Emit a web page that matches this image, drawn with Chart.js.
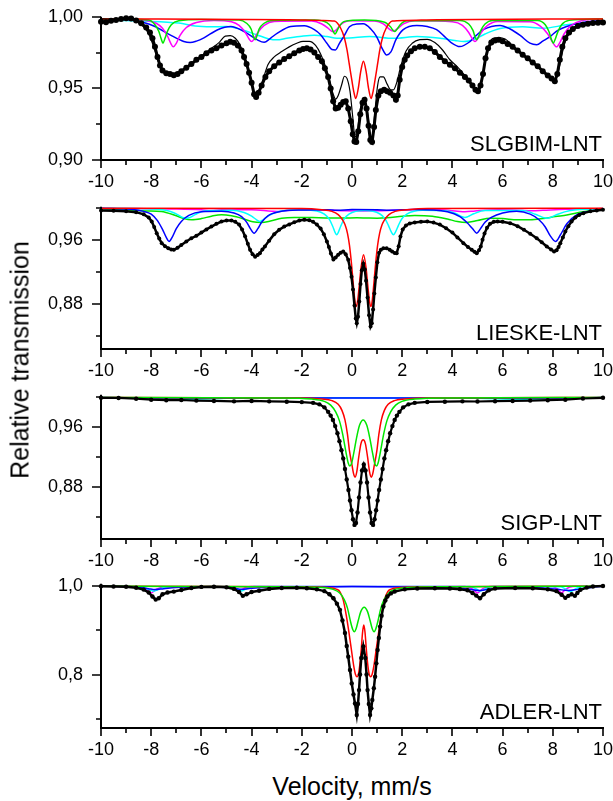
<!DOCTYPE html>
<html>
<head>
<meta charset="utf-8">
<script src="https://cdn.jsdelivr.net/npm/chart.js@4.4.1/dist/chart.umd.min.js"></script>
<style>
  html, body { margin: 0; padding: 0; background: #fff; }
  #wrap { position: relative; width: 613px; height: 801px; overflow: hidden;
          font-family: "Liberation Sans", Arial, sans-serif; color: #000; }
  #wrap canvas { position: absolute; left: 0; }
  .ytitle { position: absolute; left: 19.6px; top: 360px; font-size: 25px; line-height: 1;
            white-space: nowrap; transform: translate(-50%, -50%) rotate(-90deg); }
  .xtitle { position: absolute; left: 352px; top: 774px; font-size: 25px; line-height: 1;
            white-space: nowrap; transform: translateX(-50%); }
</style>
</head>
<body>
<div id="wrap">
  <div class="ytitle">Relative transmission</div>
  <div class="xtitle">Velocity, mm/s</div>
</div>
<script>
// ---------- axis ticks ----------
const xMajorTicks = [-10, -8, -6, -4, -2, 0, 2, 4, 6, 8, 10];
const xMinorTicks = [-9, -7, -5, -3, -1, 1, 3, 5, 7, 9];

const sampleNames = ['SLGBIM-LNT', 'LIESKE-LNT', 'SIGP-LNT', 'ADLER-LNT'];

const slgbimYMajor = [0.90, 0.95, 1.00];
const slgbimYMinor = [0.925, 0.975];
const lieskeYMajor = [0.88, 0.96];
const lieskeYMinor = [0.84, 0.92, 1.00];
const sigpYMajor = [0.88, 0.96];
const sigpYMinor = [0.84, 0.92, 1.00];
const adlerYMajor = [0.8, 1.0];
const adlerYMinor = [0.7, 0.9];

// ---------- SLGBIM-LNT: [velocity mm/s, relative transmission] ----------
const slgbimMeasured = [
  [-10,0.9965],[-9.8,0.9962],[-9.6,0.9972],[-9.4,0.9978],[-9.2,0.9985],[-9,0.999],[-8.8,0.9988],
  [-8.6,0.9975],[-8.4,0.9955],[-8.2,0.9925],[-8.05,0.989],[-7.95,0.985],[-7.85,0.979],[-7.75,0.972],
  [-7.65,0.966],[-7.55,0.9625],[-7.4,0.9605],[-7.25,0.96],[-7.1,0.9592],[-6.95,0.96],[-6.8,0.962],
  [-6.6,0.9645],[-6.4,0.967],[-6.2,0.97],[-6,0.972],[-5.8,0.9745],[-5.6,0.9765],[-5.4,0.978],
  [-5.2,0.98],[-5,0.9815],[-4.85,0.9825],[-4.7,0.9818],[-4.55,0.98],[-4.4,0.9765],[-4.3,0.972],
  [-4.2,0.967],[-4.1,0.961],[-4,0.954],[-3.9,0.946],[-3.82,0.944],[-3.72,0.947],[-3.6,0.952],
  [-3.45,0.958],[-3.3,0.962],[-3.1,0.9655],[-2.9,0.968],[-2.7,0.9705],[-2.5,0.9725],[-2.3,0.9745],
  [-2.1,0.9765],[-1.95,0.9775],[-1.8,0.978],[-1.65,0.9772],[-1.5,0.975],[-1.35,0.972],[-1.2,0.969],
  [-1.08,0.964],[-0.95,0.958],[-0.85,0.95],[-0.75,0.941],[-0.65,0.936],[-0.55,0.9365],[-0.45,0.9385],
  [-0.35,0.9405],[-0.25,0.941],[-0.15,0.936],[-0.05,0.927],[0.03,0.918],[0.1,0.913],[0.17,0.9125],
  [0.25,0.92],[0.33,0.932],[0.42,0.94],[0.5,0.942],[0.58,0.936],[0.66,0.924],[0.73,0.914],
  [0.8,0.9125],[0.88,0.923],[0.95,0.935],[1.05,0.945],[1.15,0.948],[1.28,0.949],[1.4,0.948],
  [1.52,0.947],[1.65,0.945],[1.75,0.942],[1.82,0.945],[1.9,0.956],[2,0.965],[2.1,0.97],[2.2,0.973],
  [2.35,0.976],[2.5,0.978],[2.7,0.979],[2.9,0.979],[3.1,0.978],[3.3,0.9755],[3.5,0.972],[3.7,0.969],
  [3.9,0.9665],[4.1,0.964],[4.3,0.961],[4.5,0.958],[4.65,0.9555],[4.8,0.952],[4.92,0.949],[5.02,0.948],
  [5.12,0.952],[5.22,0.96],[5.32,0.971],[5.42,0.978],[5.55,0.982],[5.7,0.9835],[5.85,0.984],[6,0.983],
  [6.2,0.981],[6.4,0.979],[6.6,0.9765],[6.8,0.9735],[7,0.971],[7.2,0.968],[7.4,0.9655],[7.6,0.962],
  [7.8,0.959],[7.95,0.957],[8.08,0.955],[8.18,0.96],[8.28,0.97],[8.38,0.979],[8.5,0.985],[8.65,0.989],
  [8.8,0.9915],[9,0.9935],[9.2,0.9945],[9.4,0.9952],[9.6,0.9956],[9.8,0.9958],[10,0.996]
];
const slgbimFit = [
  [-10,0.9985],[-9,0.9982],[-8.6,0.997],[-8.3,0.993],[-8.1,0.988],[-7.9,0.979],[-7.7,0.968],[-7.5,0.962],
  [-7.3,0.961],[-7.05,0.9605],[-6.8,0.9625],[-6.5,0.966],[-6.2,0.97],[-5.9,0.974],[-5.6,0.978],[-5.3,0.982],
  [-5.05,0.9865],[-4.85,0.9868],[-4.65,0.985],[-4.45,0.98],[-4.25,0.97],[-4.08,0.96],[-3.95,0.95],
  [-3.85,0.9455],[-3.72,0.948],[-3.55,0.956],[-3.35,0.9665],[-3.1,0.972],[-2.8,0.9757],[-2.5,0.979],
  [-2.2,0.9815],[-1.95,0.9828],[-1.7,0.9828],[-1.45,0.98],[-1.25,0.974],[-1.05,0.965],[-0.9,0.956],
  [-0.75,0.946],[-0.65,0.9425],[-0.55,0.945],[-0.42,0.952],[-0.3,0.9585],[-0.2,0.957],[-0.08,0.948],
  [0.03,0.93],[0.12,0.916],[0.2,0.918],[0.3,0.932],[0.4,0.941],[0.47,0.943],[0.55,0.94],[0.65,0.929],
  [0.75,0.915],[0.83,0.918],[0.92,0.935],[1.02,0.952],[1.12,0.958],[1.25,0.958],[1.4,0.953],[1.55,0.949],
  [1.65,0.949],[1.78,0.954],[1.95,0.966],[2.15,0.976],[2.4,0.9815],[2.7,0.984],[3,0.9843],[3.3,0.982],
  [3.6,0.977],[3.9,0.97],[4.2,0.965],[4.5,0.959],[4.75,0.953],[4.95,0.949],[5.05,0.9485],[5.15,0.953],
  [5.28,0.966],[5.42,0.978],[5.6,0.9848],[5.85,0.9855],[6.1,0.9845],[6.4,0.98],[6.7,0.975],[7,0.971],
  [7.3,0.967],[7.6,0.962],[7.85,0.958],[8.05,0.9555],[8.18,0.959],[8.3,0.968],[8.45,0.98],[8.65,0.989],
  [8.9,0.9935],[9.3,0.9955],[10,0.9975]
];
const slgbimRed = [
  [-10,0.9985],[-2.5,0.998],[-1.2,0.9975],[-0.7,0.997],[-0.45,0.992],[-0.3,0.985],[-0.2,0.977],
  [-0.1,0.966],[0,0.955],[0.08,0.947],[0.15,0.943],[0.25,0.95],[0.35,0.962],[0.455,0.969],[0.56,0.962],
  [0.66,0.95],[0.76,0.943],[0.83,0.947],[0.91,0.955],[1.01,0.966],[1.11,0.977],[1.21,0.985],
  [1.36,0.992],[1.61,0.997],[2.1,0.9975],[3.4,0.998],[10,0.9985]
];
const slgbimGreen = [
  [-10,0.9985],[-8.1,0.9978],[-7.85,0.9945],[-7.7,0.99],[-7.6,0.9845],[-7.53,0.9816],[-7.45,0.985],
  [-7.35,0.99],[-7.2,0.9945],[-6.9,0.9972],[-6,0.9982],[-4.5,0.9978],[-4.2,0.9955],[-4.02,0.9915],
  [-3.93,0.9865],[-3.86,0.984],[-3.78,0.987],[-3.7,0.9915],[-3.5,0.9955],[-3.2,0.9975],[-1.5,0.9978],
  [-1,0.996],[-0.83,0.993],[-0.74,0.9895],[-0.68,0.988],[-0.6,0.99],[-0.5,0.9935],[-0.3,0.9968],
  [0.5,0.9978],[1.3,0.9962],[1.53,0.993],[1.64,0.9905],[1.71,0.9897],[1.8,0.9915],[1.92,0.9945],
  [2.2,0.9972],[4.3,0.9975],[4.65,0.995],[4.82,0.9905],[4.91,0.9855],[4.97,0.984],[5.05,0.9865],
  [5.15,0.991],[5.3,0.995],[5.6,0.9975],[7.4,0.9975],[7.7,0.9945],[7.85,0.9895],[7.95,0.984],
  [8.02,0.9816],[8.1,0.9845],[8.2,0.9895],[8.35,0.9945],[8.65,0.9975],[10,0.9985]
];
const slgbimMagenta = [
  [-10,0.9985],[-8.2,0.9975],[-7.8,0.9955],[-7.55,0.992],[-7.35,0.9865],[-7.22,0.9815],[-7.12,0.979],
  [-7,0.9815],[-6.85,0.987],[-6.6,0.9925],[-6.2,0.996],[-5.5,0.9975],[-4.8,0.9965],[-4.5,0.994],
  [-4.25,0.989],[-4.1,0.9845],[-4,0.9827],[-3.9,0.9845],[-3.75,0.989],[-3.5,0.994],[-3.1,0.9968],
  [-1.6,0.997],[-1.2,0.995],[-0.95,0.992],[-0.82,0.99],[-0.74,0.9897],[-0.62,0.991],[-0.45,0.9945],
  [-0.1,0.9972],[0.9,0.997],[1.25,0.995],[1.5,0.9912],[1.65,0.99],[1.8,0.9915],[2.05,0.995],
  [2.5,0.9972],[4,0.9965],[4.4,0.994],[4.65,0.989],[4.8,0.9845],[4.9,0.9827],[5,0.9845],[5.15,0.989],
  [5.4,0.994],[5.8,0.9968],[7.1,0.9965],[7.5,0.9935],[7.8,0.988],[8,0.982],[8.15,0.979],[8.28,0.982],
  [8.45,0.988],[8.7,0.9935],[9.1,0.997],[10,0.9985]
];
const slgbimBlue = [
  [-10,0.9985],[-8.9,0.9979],[-8.3,0.996],[-7.85,0.9932],[-7.25,0.9874],[-6.7,0.9827],[-6.45,0.982],
  [-6.2,0.983],[-5.9,0.9853],[-5.35,0.991],[-4.83,0.9932],[-4.3,0.9897],[-3.77,0.9839],[-3.5,0.9822],
  [-3.25,0.985],[-2.97,0.9886],[-2.44,0.9932],[-1.9,0.9937],[-1.5,0.991],[-1.25,0.9874],[-1,0.9815],
  [-0.8,0.9772],[-0.66,0.9769],[-0.5,0.9815],[-0.33,0.9862],[-0.1,0.993],[0.2,0.995],[0.45,0.9951],
  [0.75,0.9915],[0.98,0.9862],[1.2,0.978],[1.38,0.9734],[1.55,0.9755],[1.75,0.984],[2.04,0.991],
  [2.58,0.994],[3,0.9932],[3.37,0.991],[3.7,0.986],[3.95,0.982],[4.3,0.9792],[4.7,0.9827],[4.95,0.987],
  [5.23,0.991],[5.9,0.994],[6.3,0.9915],[6.7,0.987],[7.09,0.9816],[7.36,0.9805],[7.6,0.983],
  [7.89,0.9862],[8.2,0.9905],[8.55,0.9932],[9.2,0.996],[10,0.9974]
];
const slgbimCyan = [
  [-10,0.9978],[-8.3,0.997],[-6.9,0.9956],[-6.25,0.9935],[-5.6,0.993],[-5,0.9932],[-4.4,0.991],
  [-3.8,0.9875],[-3.3,0.9845],[-3,0.9839],[-2.6,0.985],[-2,0.9865],[-1.5,0.9872],[-1,0.9862],
  [-0.6,0.985],[-0.1,0.9852],[0.7,0.9862],[1.65,0.985],[2.6,0.9862],[3.6,0.9848],[4.1,0.9835],
  [4.45,0.9827],[4.9,0.9845],[5.3,0.988],[5.9,0.9918],[6.8,0.993],[7.6,0.992],[8.55,0.9944],[10,0.9967]
];

// ---------- LIESKE-LNT ----------
const lieskeMeasured = [
  [-10,0.9966],[-9.5,0.9962],[-9,0.9955],[-8.6,0.9945],[-8.3,0.9918],[-8.1,0.988],[-7.98,0.983],
  [-7.88,0.976],[-7.78,0.9683],[-7.68,0.9615],[-7.58,0.9558],[-7.45,0.952],[-7.32,0.9496],[-7.2,0.948],
  [-7.1,0.9475],[-6.95,0.95],[-6.8,0.9535],[-6.6,0.958],[-6.4,0.962],[-6.2,0.965],[-6,0.969],[-5.8,0.973],
  [-5.6,0.9765],[-5.4,0.98],[-5.2,0.9828],[-5,0.984],[-4.8,0.9842],[-4.65,0.9825],[-4.5,0.979],
  [-4.38,0.973],[-4.26,0.9645],[-4.15,0.955],[-4.06,0.9475],[-3.96,0.942],[-3.86,0.939],[-3.76,0.941],
  [-3.67,0.9433],[-3.57,0.948],[-3.47,0.9517],[-3.3,0.959],[-3.1,0.967],[-2.9,0.9725],[-2.7,0.9765],
  [-2.5,0.9792],[-2.3,0.9818],[-2.1,0.984],[-1.9,0.985],[-1.7,0.9845],[-1.55,0.9825],[-1.4,0.979],
  [-1.25,0.974],[-1.12,0.967],[-1,0.958],[-0.92,0.951],[-0.84,0.943],[-0.74,0.9355],[-0.65,0.938],
  [-0.55,0.9415],[-0.45,0.944],[-0.35,0.9455],[-0.25,0.942],[-0.15,0.935],[-0.08,0.925],[-0.02,0.914],
  [0.04,0.898],[0.1,0.878],[0.15,0.862],[0.19,0.856],[0.24,0.864],[0.29,0.883],[0.34,0.905],[0.39,0.922],
  [0.45,0.93],[0.51,0.923],[0.56,0.909],[0.62,0.888],[0.68,0.866],[0.74,0.852],[0.79,0.856],[0.84,0.873],
  [0.89,0.893],[0.95,0.913],[1.01,0.932],[1.08,0.944],[1.15,0.9475],[1.25,0.9495],[1.38,0.9496],
  [1.5,0.9475],[1.6,0.9454],[1.7,0.9435],[1.78,0.9433],[1.86,0.952],[1.93,0.964],[2.02,0.973],
  [2.15,0.978],[2.3,0.9805],[2.5,0.9815],[2.75,0.9825],[3,0.9829],[3.25,0.9815],[3.5,0.979],[3.75,0.9745],
  [4,0.969],[4.2,0.963],[4.44,0.9558],[4.62,0.951],[4.77,0.9475],[4.88,0.945],[4.97,0.9433],[5.06,0.947],
  [5.13,0.9517],[5.2,0.96],[5.28,0.968],[5.38,0.975],[5.5,0.98],[5.65,0.9825],[5.8,0.983],[6,0.9825],
  [6.3,0.9808],[6.6,0.977],[6.85,0.9725],[7.1,0.9675],[7.36,0.962],[7.56,0.957],[7.76,0.9517],
  [7.93,0.948],[8.05,0.9455],[8.15,0.947],[8.23,0.951],[8.3,0.9558],[8.4,0.963],[8.5,0.9704],
  [8.62,0.977],[8.75,0.983],[8.9,0.988],[9.05,0.991],[9.22,0.9933],[9.5,0.9955],[9.75,0.9966],[10,0.9975]
];
const lieskeRed = [
  [-10,0.9995],[-2,0.999],[-1.2,0.9975],[-0.8,0.9955],[-0.55,0.9915],[-0.4,0.986],[-0.28,0.979],
  [-0.18,0.968],[-0.1,0.953],[-0.02,0.93],[0.05,0.905],[0.11,0.885],[0.16,0.8767],[0.22,0.883],
  [0.29,0.903],[0.36,0.925],[0.46,0.9413],[0.56,0.925],[0.63,0.903],[0.7,0.883],[0.76,0.8767],
  [0.81,0.885],[0.87,0.905],[0.94,0.93],[1.02,0.953],[1.1,0.968],[1.2,0.979],[1.32,0.986],[1.47,0.9915],
  [1.72,0.9955],[2.2,0.9975],[3,0.999],[10,0.9995]
];
const lieskeGreen = [
  [-10,0.999],[-9,0.9975],[-8.2,0.996],[-7.6,0.9954],[-7,0.99],[-6.7,0.9865],[-6.39,0.985],[-6,0.9865],
  [-5.6,0.9895],[-5.2,0.9913],[-4.8,0.99],[-4.3,0.986],[-3.95,0.9825],[-3.6,0.9817],[-3.25,0.9835],
  [-2.8,0.987],[-2.3,0.988],[-1.6,0.9878],[-0.9,0.9872],[-0.4,0.9872],[0.2,0.9875],[0.6,0.9872],
  [1,0.987],[1.4,0.9875],[2,0.9895],[2.5,0.9905],[3.2,0.9895],[3.8,0.986],[4.2,0.9828],[4.57,0.9817],
  [5,0.984],[5.5,0.987],[6,0.9865],[6.6,0.985],[7.1,0.985],[7.6,0.9865],[8.1,0.989],[8.56,0.991],
  [9.2,0.995],[9.9,0.9985]
];
const lieskeMagenta = [
  [-10,0.9993],[-7,0.9985],[-6,0.9975],[-5.6,0.9965],[-5.2,0.9975],[-4,0.9975],[-3.2,0.9958],
  [-2.9,0.9954],[-2.5,0.9968],[-1.5,0.9975],[-0.8,0.9968],[-0.3,0.9962],[0.45,0.996],[1,0.9962],
  [1.6,0.9968],[2.5,0.9978],[3.5,0.9975],[4.2,0.9958],[4.5,0.995],[4.9,0.996],[5.8,0.9975],[6.6,0.997],
  [7.2,0.9962],[7.6,0.9968],[8.5,0.9982],[10,0.9992]
];
const lieskeBlue = [
  [-10,0.9995],[-8.8,0.998],[-8.3,0.9955],[-8,0.992],[-7.75,0.984],[-7.55,0.973],[-7.4,0.963],
  [-7.29,0.958],[-7.15,0.964],[-7,0.974],[-6.8,0.983],[-6.5,0.9905],[-6,0.995],[-5.2,0.9955],
  [-4.7,0.9935],[-4.4,0.989],[-4.2,0.982],[-4.05,0.974],[-3.9,0.9683],[-3.75,0.974],[-3.6,0.982],
  [-3.35,0.99],[-2.9,0.995],[-2,0.9972],[-1,0.9975],[-0.6,0.9968],[0,0.9978],[1,0.9975],[1.5,0.997],
  [2.5,0.9978],[3.8,0.995],[4.3,0.989],[4.6,0.981],[4.8,0.974],[4.97,0.9683],[5.12,0.974],[5.3,0.982],
  [5.55,0.988],[6,0.9935],[6.56,0.9955],[7.1,0.992],[7.45,0.985],[7.7,0.976],[7.9,0.965],[8.11,0.958],
  [8.3,0.966],[8.56,0.98],[8.95,0.991],[9.5,0.996],[10,0.9975]
];
const lieskeCyan = [
  [-10,0.9995],[-8,0.9985],[-7.3,0.996],[-6.95,0.9915],[-6.75,0.988],[-6.6,0.987],[-6.45,0.988],
  [-6.25,0.9915],[-5.9,0.996],[-4.8,0.997],[-4.3,0.994],[-4,0.9895],[-3.8,0.985],[-3.67,0.983],
  [-3.54,0.985],[-3.35,0.9895],[-3.05,0.994],[-2.2,0.9975],[-1.4,0.996],[-1.1,0.992],[-0.9,0.9855],
  [-0.77,0.977],[-0.67,0.969],[-0.61,0.9663],[-0.55,0.969],[-0.45,0.977],[-0.32,0.9855],[-0.12,0.992],
  [0.5,0.9965],[1.1,0.9925],[1.32,0.986],[1.45,0.978],[1.57,0.9695],[1.65,0.9663],[1.73,0.9695],
  [1.85,0.978],[1.98,0.986],[2.2,0.9925],[2.8,0.997],[3.8,0.996],[4.15,0.9925],[4.38,0.989],[4.5,0.988],
  [4.62,0.989],[4.85,0.9925],[5.3,0.9965],[6.8,0.9965],[7.3,0.992],[7.6,0.988],[7.76,0.987],[7.92,0.988],
  [8.2,0.992],[8.7,0.9965],[10,0.999]
];

// ---------- SIGP-LNT ----------
const sigpMeasured = [
  [-10,0.9987],[-9.3,0.9985],[-8.6,0.9975],[-8,0.9962],[-7.4,0.9955],[-6.8,0.9958],[-6.2,0.995],
  [-5.5,0.9945],[-4.7,0.994],[-4,0.9945],[-3.3,0.994],[-2.6,0.9935],[-2,0.993],[-1.55,0.992],[-1.3,0.99],
  [-1.1,0.986],[-0.95,0.98],[-0.85,0.975],[-0.76,0.9693],[-0.67,0.961],[-0.58,0.9516],[-0.5,0.941],
  [-0.42,0.929],[-0.35,0.918],[-0.28,0.904],[-0.21,0.89],[-0.14,0.876],[-0.08,0.862],[-0.02,0.849],
  [0.04,0.837],[0.1,0.8295],[0.16,0.832],[0.22,0.846],[0.28,0.866],[0.34,0.886],[0.4,0.902],[0.47,0.91],
  [0.54,0.902],[0.6,0.886],[0.66,0.866],[0.72,0.846],[0.78,0.832],[0.84,0.8295],[0.9,0.837],[0.96,0.849],
  [1.02,0.862],[1.08,0.876],[1.15,0.89],[1.22,0.904],[1.29,0.918],[1.36,0.929],[1.44,0.941],[1.52,0.9516],
  [1.61,0.961],[1.7,0.9693],[1.79,0.975],[1.89,0.98],[2.04,0.986],[2.25,0.99],[2.5,0.992],[3,0.9932],
  [3.7,0.9935],[4.4,0.994],[5,0.9938],[5.7,0.9942],[6.4,0.9945],[7.1,0.995],[7.8,0.9955],[8.5,0.9962],
  [9.2,0.9978],[10,0.9987]
];
const sigpRed = [
  [-10,0.999],[-2,0.9985],[-1.2,0.997],[-0.8,0.995],[-0.55,0.99],[-0.4,0.982],[-0.28,0.9693],
  [-0.18,0.95],[-0.1,0.928],[0,0.909],[0.06,0.898],[0.12,0.8929],[0.19,0.9],[0.27,0.92],[0.36,0.938],
  [0.445,0.9427],[0.53,0.938],[0.62,0.92],[0.7,0.9],[0.77,0.8929],[0.83,0.898],[0.89,0.909],[0.99,0.928],
  [1.07,0.95],[1.17,0.9693],[1.29,0.982],[1.44,0.99],[1.69,0.995],[2.1,0.997],[3,0.9985],[10,0.999]
];
const sigpGreen = [
  [-10,0.9992],[-3,0.9985],[-1.6,0.997],[-1.1,0.994],[-0.85,0.989],[-0.65,0.98],[-0.5,0.968],
  [-0.37,0.95],[-0.25,0.928],[-0.15,0.912],[-0.09,0.908],[-0.02,0.911],[0.07,0.925],[0.18,0.945],
  [0.3,0.962],[0.445,0.9693],[0.59,0.962],[0.71,0.945],[0.82,0.925],[0.91,0.911],[0.98,0.908],
  [1.04,0.912],[1.14,0.928],[1.26,0.95],[1.39,0.968],[1.54,0.98],[1.74,0.989],[1.99,0.994],[2.5,0.997],
  [3.9,0.9985],[10,0.9992]
];
const sigpBlue = [
  [-10,0.999],[-7.5,0.998],[-4,0.9982],[0,0.9985],[4,0.9982],[7.5,0.998],[10,0.999]
];
const sigpCyan = [
  [-10,0.9992],[-8,0.9975],[-6.8,0.9968],[-5,0.998],[0,0.9988],[5,0.998],[6.8,0.9968],[8,0.9975],[10,0.9992]
];

// ---------- ADLER-LNT ----------
const adlerMeasured = [
  [-10,0.999],[-9.5,0.9985],[-9,0.9978],[-8.6,0.9955],[-8.3,0.9915],[-8.1,0.985],[-7.95,0.976],
  [-7.82,0.969],[-7.7,0.972],[-7.55,0.981],[-7.35,0.985],[-7.1,0.987],[-6.8,0.9905],[-6.4,0.995],
  [-6,0.9975],[-5.5,0.9978],[-5,0.9965],[-4.7,0.993],[-4.5,0.986],[-4.35,0.9775],[-4.2,0.981],[-4,0.986],
  [-3.7,0.989],[-3.3,0.993],[-2.8,0.995],[-2.2,0.9955],[-1.8,0.9945],[-1.4,0.992],[-1.1,0.988],
  [-0.9,0.981],[-0.74,0.972],[-0.6,0.96],[-0.48,0.946],[-0.38,0.922],[-0.28,0.894],[-0.21,0.865],
  [-0.15,0.841],[-0.08,0.811],[-0.01,0.781],[0.06,0.756],[0.12,0.736],[0.19,0.71],[0.24,0.735],
  [0.28,0.766],[0.32,0.801],[0.37,0.838],[0.45,0.864],[0.53,0.838],[0.58,0.801],[0.62,0.766],
  [0.67,0.735],[0.72,0.71],[0.77,0.725],[0.81,0.744],[0.87,0.77],[0.92,0.796],[0.97,0.826],[1.02,0.856],
  [1.07,0.883],[1.12,0.9085],[1.18,0.933],[1.25,0.9535],[1.33,0.967],[1.41,0.976],[1.55,0.983],
  [1.7,0.987],[2.1,0.992],[2.6,0.994],[3.3,0.9945],[3.9,0.994],[4.3,0.9925],[4.6,0.99],[4.8,0.984],
  [4.95,0.978],[5.1,0.972],[5.25,0.981],[5.45,0.99],[5.7,0.994],[6.5,0.995],[7.2,0.9945],[7.8,0.992],
  [8.15,0.988],[8.35,0.98],[8.5,0.973],[8.62,0.9775],[8.75,0.981],[8.88,0.9775],[8.98,0.984],[9.1,0.991],
  [9.35,0.996],[9.6,0.9985],[10,0.9995]
];
const adlerRed = [
  [-10,0.999],[-2,0.998],[-1,0.996],[-0.6,0.992],[-0.48,0.9865],[-0.35,0.9685],[-0.22,0.931],
  [-0.12,0.895],[-0.02,0.855],[0.07,0.82],[0.14,0.801],[0.2,0.796],[0.26,0.803],[0.31,0.822],
  [0.37,0.858],[0.42,0.895],[0.47,0.912],[0.52,0.895],[0.57,0.858],[0.63,0.822],[0.68,0.803],
  [0.74,0.796],[0.8,0.801],[0.87,0.82],[0.96,0.855],[1.06,0.895],[1.16,0.931],[1.29,0.9685],
  [1.42,0.9865],[1.54,0.992],[1.94,0.996],[3,0.998],[10,0.999]
];
const adlerGreen = [
  [-10,0.999],[-3,0.998],[-1.2,0.996],[-0.75,0.992],[-0.48,0.9835],[-0.3,0.968],[-0.18,0.95],
  [-0.06,0.92],[0.03,0.902],[0.09,0.897],[0.16,0.903],[0.25,0.922],[0.35,0.942],[0.485,0.952],
  [0.62,0.942],[0.72,0.922],[0.81,0.903],[0.88,0.897],[0.94,0.902],[1.03,0.92],[1.15,0.95],[1.27,0.968],
  [1.45,0.9835],[1.72,0.992],[2.2,0.996],[4,0.998],[10,0.999]
];
const adlerBlue = [
  [-10,0.9995],[-8.6,0.9975],[-8.1,0.9935],[-7.85,0.9915],[-7.5,0.9935],[-6.8,0.9965],[-5.2,0.997],
  [-4.7,0.9945],[-4.4,0.992],[-4.1,0.994],[-3.3,0.9965],[-1.5,0.9975],[0,0.9985],[1.5,0.9978],
  [3.5,0.9965],[4.6,0.993],[5.1,0.9895],[5.6,0.9935],[7.2,0.9955],[8.2,0.992],[8.6,0.9895],[9,0.992],
  [9.6,0.997],[10,0.999]
];
const adlerMagenta = [
  [-10,0.9995],[-8.5,0.9975],[-8.2,0.992],[-8,0.984],[-7.8,0.992],[-7.5,0.9975],[-5,0.9985],
  [-4.75,0.9955],[-4.5,0.9895],[-4.25,0.9955],[-4,0.9985],[4.5,0.9985],[4.8,0.993],[5,0.984],[5.2,0.993],
  [5.5,0.9985],[8,0.998],[8.2,0.992],[8.35,0.984],[8.5,0.992],[8.8,0.9985],[10,0.9995]
];
const adlerCyan = [
  [-10,0.9995],[-8.4,0.9975],[-8.1,0.992],[-7.9,0.988],[-7.7,0.992],[-7.4,0.9975],[-4.9,0.9985],
  [-4.6,0.994],[-4.4,0.9885],[-4.2,0.994],[-3.9,0.9985],[4.7,0.9985],[4.95,0.993],[5.1,0.9885],
  [5.3,0.993],[5.6,0.9985],[8.3,0.998],[8.5,0.993],[8.7,0.987],[8.9,0.993],[9.2,0.9985],[10,0.9995]
];

// ---------- drawing ----------
const FONT = '"Liberation Sans", Arial, Helvetica, sans-serif';
Chart.defaults.font.family = FONT;
Chart.defaults.color = '#000';

const COLORS = { red: '#ff0000', green: '#00e600', blue: '#0000ff', cyan: '#00ffff', magenta: '#ff00ff' };

// plot frame in page pixels: x from -10 to 10 spans AXIS_LEFT..AXIS_RIGHT
const AXIS_LEFT = 101, AXIS_RIGHT = 603;

function toPoints(pairs) { return pairs.map(p => ({ x: p[0], y: p[1] })); }

function component(pairs, color) {
  return { data: toPoints(pairs), borderColor: color, borderWidth: 1.5, pointRadius: 0,
           cubicInterpolationMode: 'monotone', fill: false, clip: false };
}
function measured(pairs, radius, width) {
  return { data: toPoints(pairs), borderColor: '#000', borderWidth: width, pointRadius: radius,
           pointBackgroundColor: '#000', pointBorderWidth: 0, pointHoverRadius: radius,
           tension: 0, fill: false, clip: false };
}
function fitLine(pairs) {
  return { data: toPoints(pairs), borderColor: '#000', borderWidth: 1.2, pointRadius: 0,
           cubicInterpolationMode: 'monotone', fill: false, clip: false };
}

// axes, tick marks and sample name, drawn over the curves
const frame = {
  id: 'frame',
  afterDatasetsDraw(chart, args, o) {
    const { ctx, chartArea: a, scales: { x, y } } = chart;
    ctx.save();
    ctx.strokeStyle = '#000';
    ctx.lineWidth = 2;
    ctx.beginPath();
    ctx.moveTo(a.left, a.top);
    ctx.lineTo(a.left, a.bottom);
    ctx.lineTo(a.right + 1, a.bottom);
    ctx.stroke();
    ctx.lineWidth = 1.6;
    ctx.beginPath();
    xMajorTicks.forEach(v => { const p = Math.round(x.getPixelForValue(v)); ctx.moveTo(p, a.bottom); ctx.lineTo(p, a.bottom + 8); });
    xMinorTicks.forEach(v => { const p = Math.round(x.getPixelForValue(v)); ctx.moveTo(p, a.bottom); ctx.lineTo(p, a.bottom + 5); });
    o.major.forEach(v => { const p = Math.round(y.getPixelForValue(v)); ctx.moveTo(a.left, p); ctx.lineTo(a.left - 9, p); });
    o.minor.forEach(v => { const p = Math.round(y.getPixelForValue(v)); ctx.moveTo(a.left, p); ctx.lineTo(a.left - 5, p); });
    ctx.stroke();
    ctx.fillStyle = '#000';
    ctx.font = '22px ' + FONT;
    ctx.textAlign = 'right';
    ctx.textBaseline = 'alphabetic';
    ctx.fillText(o.label, a.right - 1, a.bottom - 9.5);
    ctx.restore();
  }
};

const panels = [
  { top: 17, bottom: 160, min: 0.90, max: 1.00, major: slgbimYMajor, minor: slgbimYMinor, dec: 2, label: sampleNames[0],
    sets: () => [measured(slgbimMeasured, 3, 3), fitLine(slgbimFit),
               component(slgbimRed, COLORS.red), component(slgbimGreen, COLORS.green),
               component(slgbimMagenta, COLORS.magenta), component(slgbimBlue, COLORS.blue),
               component(slgbimCyan, COLORS.cyan)] },
  { top: 207, bottom: 349, min: 0.8238, max: 1.0012, major: lieskeYMajor, minor: lieskeYMinor, dec: 2, label: sampleNames[1],
    sets: () => [measured(lieskeMeasured, 2, 2.5),
               component(lieskeRed, COLORS.red), component(lieskeBlue, COLORS.blue),
               component(lieskeCyan, COLORS.cyan), component(lieskeMagenta, COLORS.magenta),
               component(lieskeGreen, COLORS.green)] },
  { top: 395, bottom: 539, min: 0.8107, max: 1.0027, major: sigpYMajor, minor: sigpYMinor, dec: 2, label: sampleNames[2],
    sets: () => [measured(sigpMeasured, 2.2, 2.2),
               component(sigpGreen, COLORS.green), component(sigpRed, COLORS.red),
               component(sigpBlue, COLORS.blue), component(sigpCyan, COLORS.cyan)] },
  { top: 584, bottom: 728, min: 0.6809, max: 1.0045, major: adlerYMajor, minor: adlerYMinor, dec: 1, label: sampleNames[3],
    sets: () => [measured(adlerMeasured, 2.2, 2.5),
               component(adlerGreen, COLORS.green), component(adlerRed, COLORS.red),
               component(adlerBlue, COLORS.blue), component(adlerCyan, COLORS.cyan),
               component(adlerMagenta, COLORS.magenta)] }
];

function chartConfig(p) {
  return {
    type: 'line',
    data: { datasets: p.sets() },
    options: {
      responsive: false, animation: false, devicePixelRatio: 1, events: [],
      layout: { padding: { left: 0, right: 10, top: 17, bottom: 0 } },
      plugins: { legend: { display: false }, tooltip: { enabled: false },
                 frame: { major: p.major, minor: p.minor, label: p.label } },
      scales: {
        x: { type: 'linear', min: -10, max: 10,
             grid: { display: false, drawTicks: false }, border: { display: false },
             afterBuildTicks: s => { s.ticks = xMajorTicks.map(v => ({ value: v })); },
             afterFit: s => { s.height = 40; },
             ticks: { font: { size: 18 }, color: '#000', padding: 11, maxRotation: 0, autoSkip: false,
                      callback: v => String(v) } },
        y: { type: 'linear', min: p.min, max: p.max,
             grid: { display: false, drawTicks: false }, border: { display: false },
             afterBuildTicks: s => { s.ticks = p.major.map(v => ({ value: v })); },
             afterFit: s => { s.width = 101; },
             ticks: { font: { size: 18 }, color: '#000', padding: 18,
                      callback: v => Number(v).toFixed(p.dec).replace('.', ',') } }
      }
    },
    plugins: [frame]
  };
}

const wrap = document.getElementById('wrap');
panels.forEach(p => {
  const cv = document.createElement('canvas');
  wrap.insertBefore(cv, wrap.firstChild);
  const make = (w, h) => {
    cv.width = w; cv.height = h;
    cv.style.width = w + 'px'; cv.style.height = h + 'px';
    return new Chart(cv.getContext('2d'), chartConfig(p));
  };
  // first pass measures the space the library keeps around the plot area,
  // second pass sizes the canvas so the plot area lands on the panel frame
  const baseW = 613, baseH = 200;
  let chart = make(baseW, baseH);
  const a = chart.chartArea;
  const w = baseW + (AXIS_RIGHT - AXIS_LEFT) - (a.right - a.left);
  const h = baseH + (p.bottom - p.top) - (a.bottom - a.top);
  chart.destroy();
  chart = make(Math.round(w), Math.round(h));
  const b = chart.chartArea;
  cv.style.left = (AXIS_LEFT - b.left) + 'px';
  cv.style.top = (p.top - b.top) + 'px';
});
</script>
</body>
</html>
